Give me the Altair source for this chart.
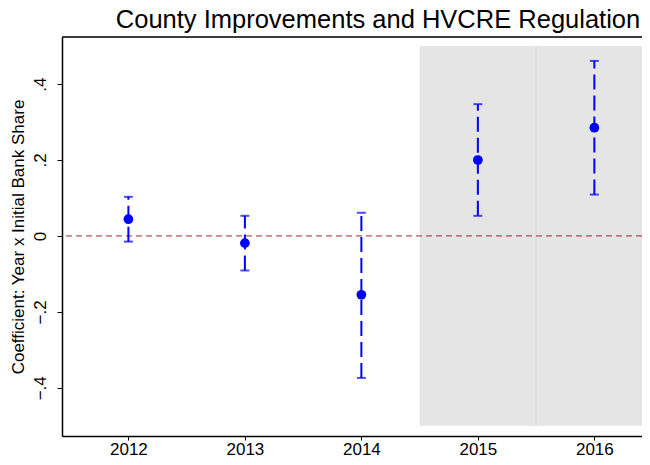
import altair as alt
import pandas as pd

years = [2012, 2013, 2014, 2015, 2016]
coef = [0.044, -0.019, -0.155, 0.200, 0.285]
ci_low = [-0.015, -0.091, -0.374, 0.053, 0.109]
ci_high = [0.103, 0.053, 0.061, 0.347, 0.461]

shade_start = [2014.5, 2015.5]
shade_end = [2015.5, 2016.5]
shade_low = [-0.5, -0.5]
shade_high = [0.5, 0.5]

y_ticks = [-0.4, -0.2, 0, 0.2, 0.4]

df = pd.DataFrame({"year": years, "coef": coef, "lo": ci_low, "hi": ci_high})
shade = pd.DataFrame({"x": shade_start, "x2": shade_end, "y": shade_low, "y2": shade_high})
zero = pd.DataFrame({"y": [0]})

FONT = "Liberation Sans"
W, H = 580, 399
xdom = [2011.43, 2016.409]
ydom = [-0.527, 0.524]

xs = alt.Scale(domain=xdom, nice=False, zero=False)
ys = alt.Scale(domain=ydom, nice=False, zero=False)

x_axis = alt.Axis(values=years, format="d", title=None, grid=False, domainColor="black",
                  domainWidth=1.5, tickColor="black", tickSize=4, labelFontSize=17,
                  labelColor="black", labelFont=FONT, labelPadding=1)
y_axis = alt.Axis(values=y_ticks,
                  labelExpr="datum.value == 0 ? '0' : replace(format(datum.value, '.1f'), '0.', '.')",
                  title="Coefficient: Year x Initial Bank Share", grid=False,
                  domainColor="black", domainWidth=1.5, tickColor="black", tickSize=5,
                  labelFontSize=17, labelColor="black", labelFont=FONT, labelAngle=270,
                  labelAlign="center", labelBaseline="bottom", labelPadding=8,
                  titleFontSize=17, titleFont=FONT, titleColor="black", titleFontWeight="normal",
                  titlePadding=4)

rects = alt.Chart(shade).mark_rect(color="#e5e5e5", clip=True).encode(
    x=alt.X("x:Q", scale=xs, axis=x_axis), x2="x2:Q",
    y=alt.Y("y:Q", scale=ys, axis=y_axis), y2="y2:Q")

divider = alt.Chart(pd.DataFrame({"x": [shade_end[0]], "y": [shade_low[0]], "y2": [shade_high[0]]})).mark_rule(
    color="#d8d8d8", strokeWidth=1).encode(x=alt.X("x:Q", scale=xs), y=alt.Y("y:Q", scale=ys), y2="y2:Q")

zline = alt.Chart(zero).mark_rule(color="#a02c2c", strokeDash=[6, 4], strokeWidth=1).encode(
    y=alt.Y("y:Q", scale=ys))

top_border = alt.Chart(zero).mark_rule(color="black", strokeWidth=1.5).encode(
    x=alt.value(0), x2=alt.value(W), y=alt.value(0))

bars = alt.Chart(df).mark_rule(color="#0000ff", strokeWidth=2, strokeDash=[15, 6]).encode(
    x=alt.X("year:Q", scale=xs), y=alt.Y("lo:Q", scale=ys), y2="hi:Q")

cap_lo = alt.Chart(df).mark_tick(color="#0000ff", orient="horizontal", size=9, thickness=2).encode(
    x=alt.X("year:Q", scale=xs), y=alt.Y("lo:Q", scale=ys))
cap_hi = alt.Chart(df).mark_tick(color="#0000ff", orient="horizontal", size=9, thickness=2).encode(
    x=alt.X("year:Q", scale=xs), y=alt.Y("hi:Q", scale=ys))

pts = alt.Chart(df).mark_circle(color="#0000ff", size=95, opacity=1).encode(
    x=alt.X("year:Q", scale=xs), y=alt.Y("coef:Q", scale=ys))

chart = alt.layer(rects, divider, zline, top_border, bars, cap_lo, cap_hi, pts).properties(
    width=W, height=H,
    title=alt.TitleParams("County Improvements and HVCRE Regulation", fontSize=25.5, font=FONT,
                          fontWeight="normal", color="black", anchor="middle", offset=3, dx=26),
    autosize=alt.AutoSizeParams(type="none"),
    padding={"left": 54, "top": 29, "right": 0, "bottom": 21},
).configure_view(stroke=None).configure(background="white")

chart.save("out.html", embed_options={"renderer": "svg", "actions": False})
